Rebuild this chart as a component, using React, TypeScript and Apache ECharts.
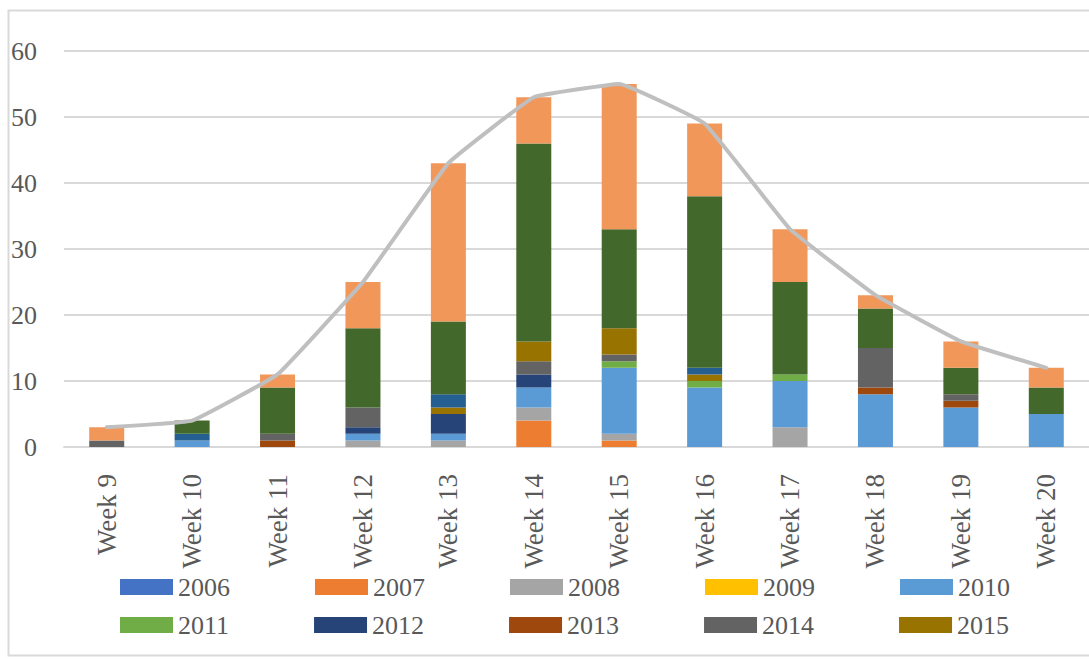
import React, { useEffect, useRef } from "react";
import * as echarts from "echarts";

const weeks = ["Week 9", "Week 10", "Week 11", "Week 12", "Week 13", "Week 14", "Week 15", "Week 16", "Week 17", "Week 18", "Week 19", "Week 20"];
const yTicks = { min: 0, max: 60, interval: 10 };

const s2006 = [0, 0, 0, 0, 0, 0, 0, 0, 0, 0, 0, 0];
const s2007 = [0, 0, 0, 0, 0, 4, 1, 0, 0, 0, 0, 0];
const s2008 = [0, 0, 0, 1, 1, 2, 1, 0, 3, 0, 0, 0];
const s2009 = [0, 0, 0, 0, 0, 0, 0, 0, 0, 0, 0, 0];
const s2010 = [0, 1, 0, 1, 1, 3, 10, 9, 7, 8, 6, 5];
const s2011 = [0, 0, 0, 0, 0, 0, 1, 1, 1, 0, 0, 0];
const s2012 = [0, 0, 0, 1, 3, 2, 0, 0, 0, 0, 0, 0];
const s2013 = [0, 0, 1, 0, 0, 0, 0, 0, 0, 1, 1, 0];
const s2014 = [1, 0, 1, 3, 0, 2, 1, 0, 0, 6, 1, 0];
const s2015 = [0, 0, 0, 0, 1, 3, 4, 1, 0, 0, 0, 0];
const s2016 = [0, 1, 0, 0, 2, 0, 0, 1, 0, 0, 0, 0];
const s2017 = [0, 2, 7, 12, 11, 30, 15, 26, 14, 6, 4, 4];
const s2018 = [2, 0, 2, 7, 24, 7, 22, 11, 8, 2, 4, 3];
const totals = [3, 4, 11, 25, 43, 53, 55, 49, 33, 23, 16, 12];

const seriesNames = ["2006", "2007", "2008", "2009", "2010", "2011", "2012", "2013", "2014", "2015", "2016", "2017", "2018"];
const seriesValues = [s2006, s2007, s2008, s2009, s2010, s2011, s2012, s2013, s2014, s2015, s2016, s2017, s2018];
const seriesColors = ["#4472C4", "#ED7D31", "#A5A5A5", "#FFC000", "#5B9BD5", "#70AD47", "#264478", "#9E480E", "#636363", "#997300", "#255E91", "#43682B", "#F1975A"];
const legendRow1 = ["2006", "2007", "2008", "2009", "2010"];
const legendRow2 = ["2011", "2012", "2013", "2014", "2015"];

const FONT = "'Liberation Serif', 'Times New Roman', serif";
const TEXT = "#595959";

export default function App() {
  const ref = useRef<HTMLDivElement>(null);
  useEffect(() => {
    if (!ref.current) return;
    const chart = echarts.init(ref.current, null, { renderer: "svg" });
    const legendCommon = {
      left: 115,
      orient: "horizontal",
      icon: "rect",
      itemWidth: 53,
      itemHeight: 16,
      itemGap: 85,
      selectedMode: false,
      textStyle: { color: TEXT, fontSize: 26, fontFamily: FONT },
    };
    chart.setOption({
      animation: false,
      backgroundColor: "#ffffff",
      graphic: [
        {
          type: "rect",
          shape: { x: 8.5, y: 10.5, width: 1200, height: 645 },
          style: { fill: "none", stroke: "#D9D9D9", lineWidth: 2 },
          silent: true,
          z: -1,
        },
      ],
      grid: { left: 64, top: 51, width: 1038, height: 396 },
      legend: [
        { ...legendCommon, top: 569, data: legendRow1 },
        { ...legendCommon, top: 607, data: legendRow2 },
      ],
      xAxis: {
        type: "category",
        data: weeks,
        axisLine: { lineStyle: { color: "#D9D9D9", width: 2 } },
        axisTick: { show: false },
        axisLabel: { rotate: 90, margin: 27, color: TEXT, fontSize: 27, fontFamily: FONT },
      },
      yAxis: {
        type: "value",
        min: yTicks.min,
        max: yTicks.max,
        interval: yTicks.interval,
        axisLine: { show: false },
        axisTick: { show: false },
        splitLine: { lineStyle: { color: "#D9D9D9", width: 2 } },
        axisLabel: { margin: 27, color: TEXT, fontSize: 26, fontFamily: FONT },
      },
      series: [
        ...seriesNames.map((name, i) => ({
          name,
          type: "bar",
          stack: "total",
          barWidth: 35,
          data: seriesValues[i],
          itemStyle: { color: seriesColors[i] },
        })),
        {
          name: "Total",
          type: "line",
          data: totals,
          smooth: 0.08,
          symbol: "none",
          lineStyle: { color: "#BFBFBF", width: 4, join: "round", cap: "round" },
          z: 5,
        },
      ],
    });
    return () => chart.dispose();
  }, []);
  return <div ref={ref} style={{ position: "fixed", left: 0, top: 0, width: 1089, height: 659 }} />;
}
